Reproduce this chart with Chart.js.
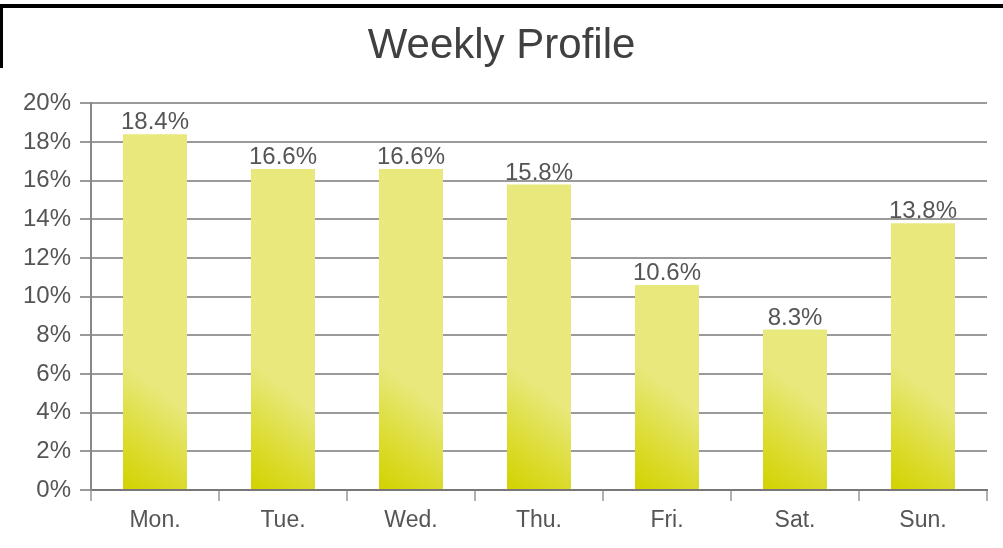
<!DOCTYPE html>
<html>
<head>
<meta charset="utf-8">
<script src="https://cdn.jsdelivr.net/npm/chart.js@4"></script>
<style>
  html, body { margin: 0; padding: 0; background: #fff; }
  #wrap { position: relative; width: 1003px; height: 548px; }
  #topbar { position: absolute; left: 0; top: 4px; width: 1003px; height: 4px; background: #000; }
  #leftbar { position: absolute; left: 0; top: 4px; width: 3px; height: 64px; background: #000; }
</style>
</head>
<body>
<div id="wrap">
  <canvas id="profile-chart" width="1003" height="548"></canvas>
  <div id="topbar"></div>
  <div id="leftbar"></div>
</div>
<script>
// Chart data
const days = ["Mon.", "Tue.", "Wed.", "Thu.", "Fri.", "Sat.", "Sun."];
const shares = [18.4, 16.6, 16.6, 15.8, 10.6, 8.3, 13.8];
const yTicks = [0, 2, 4, 6, 8, 10, 12, 14, 16, 18, 20];

const labelFont = "'Liberation Sans', Arial, sans-serif";
const textGray = "#555";
const gridGray = "#9a9a9a";

// Diagonal yellow gradient per bar (dark at bottom-left corner)
function barFill(context) {
    const chart = context.chart;
    const { ctx, chartArea } = chart;
    if (!chartArea || context.dataIndex === undefined) return "#e8e87c";
    const xs = chart.scales.x;
    const ys = chart.scales.y;
    const cx = xs.getPixelForValue(context.dataIndex);
    const left = cx - (xs.width / days.length) * 0.25;
    const base = ys.getPixelForValue(0);
    const g = ctx.createLinearGradient(left, base, left + 62, base - 80);
    g.addColorStop(0, "#d2d200");
    g.addColorStop(0.4, "#dbdb2c");
    g.addColorStop(1, "#e8e87c");
    return g;
}

// Value labels above the bars
const valueLabels = {
    id: "valueLabels",
    afterDatasetsDraw(chart) {
        const { ctx } = chart;
        const meta = chart.getDatasetMeta(0);
        ctx.save();
        ctx.font = "24px " + labelFont;
        ctx.fillStyle = textGray;
        ctx.textAlign = "center";
        ctx.textBaseline = "alphabetic";
        meta.data.forEach((bar, i) => {
            ctx.fillText(shares[i].toFixed(1) + "%", bar.x, bar.y - 5);
        });
        ctx.restore();
    }
};

new Chart(document.getElementById("profile-chart").getContext("2d"), {
    type: "bar",
    data: {
        labels: days,
        datasets: [{
            data: shares,
            backgroundColor: barFill,
            borderWidth: 0,
            barPercentage: 0.5,
            categoryPercentage: 1
        }]
    },
    options: {
        responsive: false,
        animation: false,
        layout: { padding: 0 },
        plugins: {
            legend: { display: false },
            tooltip: { enabled: false },
            title: {
                display: true,
                text: "Weekly Profile",
                color: "#404040",
                font: { family: "'Liberation Sans', Arial, sans-serif", size: 42, weight: "normal" },
                padding: { top: 21, bottom: 32 }
            }
        },
        scales: {
            x: {
                offset: true,
                grid: { offset: true, drawOnChartArea: false, color: "#b0b0b0", lineWidth: 2, tickLength: 11 },
                border: { color: "#777", width: 2 },
                ticks: { color: textGray, font: { family: labelFont, size: 23 }, padding: 6 },
                afterFit(scale) { scale.height = 58; }
            },
            y: {
                min: 0,
                max: 20,
                afterBuildTicks(scale) { scale.ticks = yTicks.map(v => ({ value: v })); },
                grid: { color: gridGray, lineWidth: 2, tickLength: 11 },
                border: { color: "#888", width: 2 },
                ticks: {
                    color: textGray,
                    font: { family: labelFont, size: 24 },
                    padding: 9,
                    callback: v => v + "%"
                },
                afterFit(scale) { scale.width = 91; }
            },
            // empty right-hand spacer so the plot ends where the reference does
            spacer: {
                type: "linear",
                position: "right",
                grid: { display: false },
                border: { display: false },
                ticks: { display: false },
                afterFit(scale) { scale.width = 16; }
            }
        }
    },
    plugins: [valueLabels]
});
</script>
</body>
</html>
